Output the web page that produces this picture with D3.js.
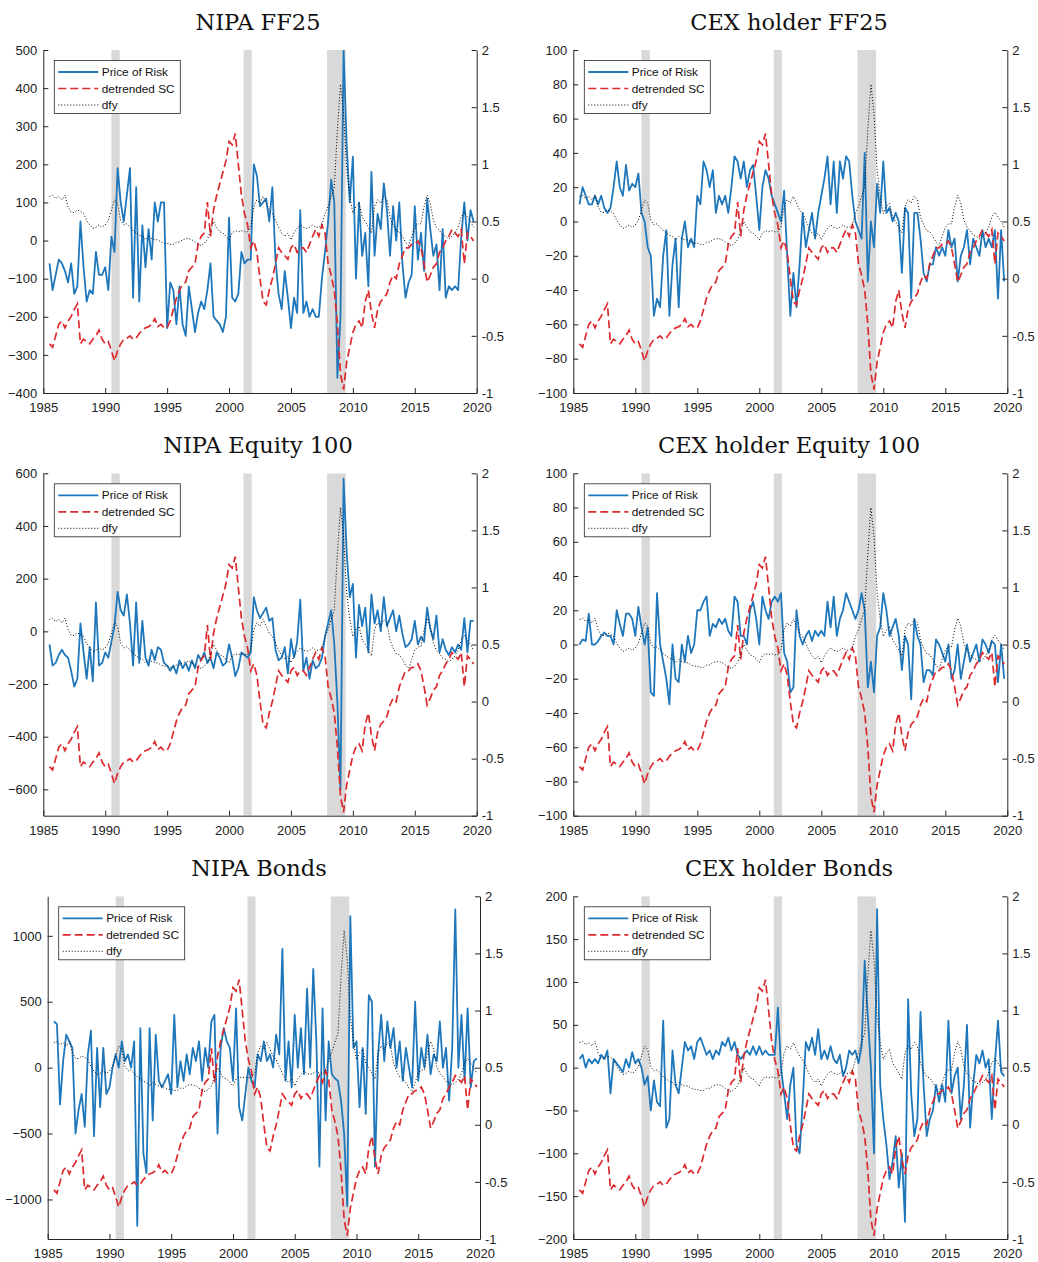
<!DOCTYPE html>
<html><head><meta charset="utf-8">
<script src="https://cdn.jsdelivr.net/npm/d3@7"></script>
<style>body{margin:0;background:#fff}svg{display:block}</style>
</head><body>
<svg id="chart" width="1038" height="1262"></svg>
<script>
// quarterly observations, 1985Q3 .. 2019Q4
const quarters = d3.range(138).map(i => 1985.5 + i * 0.25);

const detrendedSC = [
 -0.57,-0.60,
 -0.50,-0.40,-0.37,-0.43,
 -0.37,-0.33,-0.27,-0.22,
 -0.57,-0.53,-0.55,-0.57,
 -0.53,-0.50,-0.45,-0.53,
 -0.57,-0.55,-0.63,-0.72,
 -0.63,-0.57,-0.53,-0.52,
 -0.50,-0.53,-0.52,-0.48,
 -0.45,-0.43,-0.42,-0.40,
 -0.35,-0.42,-0.40,-0.43,
 -0.43,-0.37,-0.27,-0.17,
 -0.10,-0.05,-0.03,0.07,
 0.10,0.13,0.30,0.37,
 0.40,0.67,0.37,0.60,
 0.73,0.83,0.93,1.03,
 1.20,1.17,1.27,1.00,
 0.73,0.57,0.47,0.27,
 0.33,0.23,0.00,-0.20,
 -0.23,-0.10,0.00,0.13,
 0.27,0.23,0.20,0.17,
 0.27,0.30,0.23,0.27,
 0.27,0.23,0.30,0.37,
 0.43,0.37,0.47,0.40,
 0.13,0.03,-0.10,-0.40,
 -0.83,-0.97,-0.73,-0.60,
 -0.47,-0.40,-0.37,-0.43,
 -0.20,-0.10,-0.30,-0.43,
 -0.27,-0.20,-0.17,-0.13,
 -0.03,0.03,0.00,0.13,
 0.20,0.27,0.27,0.30,
 0.30,0.33,0.27,0.13,
 -0.03,0.03,0.10,0.13,
 0.23,0.27,0.33,0.37,
 0.43,0.40,0.37,0.43,
 0.13,0.40,0.37,0.33
];

const dfy = [
 0.72,0.73,
 0.70,0.72,0.69,0.73,
 0.63,0.58,0.58,0.60,
 0.59,0.57,0.51,0.47,
 0.44,0.45,0.47,0.45,
 0.47,0.51,0.60,0.69,
 0.66,0.51,0.47,0.48,
 0.45,0.42,0.40,0.38,
 0.37,0.34,0.37,0.35,
 0.34,0.34,0.32,0.31,
 0.31,0.30,0.30,0.32,
 0.32,0.34,0.35,0.35,
 0.34,0.32,0.30,0.29,
 0.31,0.34,0.42,0.50,
 0.45,0.41,0.40,0.37,
 0.34,0.40,0.42,0.41,
 0.42,0.41,0.41,0.45,
 0.63,0.69,0.66,0.72,
 0.66,0.60,0.57,0.51,
 0.45,0.40,0.37,0.40,
 0.34,0.40,0.44,0.47,
 0.45,0.44,0.45,0.47,
 0.45,0.45,0.47,0.57,
 0.63,0.72,0.80,1.30,
 1.70,1.45,0.95,0.72,
 0.57,0.63,0.66,0.54,
 0.50,0.45,0.40,0.63,
 0.69,0.66,0.72,0.69,
 0.54,0.47,0.42,0.41,
 0.37,0.32,0.29,0.37,
 0.45,0.48,0.48,0.63,
 0.73,0.66,0.51,0.45,
 0.42,0.38,0.37,0.35,
 0.37,0.40,0.45,0.54,
 0.58,0.54,0.50,0.45
];

const priceNipaFF25 = [
 -60,-130,
 -90,-50,-60,-80,
 -110,-60,-140,-120,
 50,-70,-160,-130,
 -140,-30,-90,-90,
 -70,-130,10,-30,
 190,100,50,120,
 190,-150,140,-160,
 40,-70,30,-50,
 100,50,100,100,
 -230,-110,-130,-220,
 -120,-220,-250,-120,
 -180,-240,-190,-160,
 -180,-130,-60,-200,
 -210,-220,-240,-200,
 60,-150,-160,-140,
 -30,-60,-50,-50,
 200,170,90,100,
 110,50,140,-50,
 -140,-180,-80,-150,
 -230,-150,-190,80,
 -190,-160,-200,-180,
 -200,-200,-100,-30,
 50,160,100,-360,
 -200,500,250,100,
 220,-100,100,-40,
 20,-120,180,-40,
 70,30,150,80,
 -40,90,0,100,
 -60,-150,-110,-90,
 90,-50,20,-80,
 110,30,-40,-10,
 -130,30,-150,-120,
 -130,-120,-130,10,
 100,0,80,50
];

const priceCexFF25 = [
 10,20,
 15,10,10,15,
 10,15,8,5,
 8,20,35,20,
 15,33,18,22,
 20,28,5,0,
 -15,-20,-55,-45,
 -50,-20,-5,-55,
 -25,-10,-50,-10,
 0,-15,-10,-15,
 15,10,35,30,
 20,30,5,15,
 10,15,5,20,
 38,35,25,35,
 20,30,33,15,
 -5,20,30,25,
 15,10,5,0,
 18,-20,-55,-30,
 -50,-25,5,-15,
 -5,5,-10,5,
 15,25,38,10,
 35,5,35,25,
 38,35,15,0,
 -5,-10,40,-35,
 0,-15,22,5,
 35,5,8,0,
 5,0,-30,8,
 5,-45,5,5,
 -10,-30,-35,-25,
 -25,-15,-20,-15,
 -20,-5,-15,-10,
 -35,-20,-15,-5,
 -25,-10,-15,-20,
 -5,-15,-10,-15,
 -5,-45,-5,-35
];

const priceNipaEquity = [
 -50,-130,
 -120,-90,-70,-90,
 -100,-150,-210,-180,
 30,-80,-180,-60,
 -190,110,-130,-120,
 -80,-100,-40,20,
 150,80,60,140,
 30,-130,110,-120,
 40,-100,-130,-70,
 -110,-60,-70,-120,
 -130,-150,-130,-160,
 -110,-140,-120,-150,
 -110,-140,-90,-110,
 -80,-120,-100,-140,
 -80,-100,-130,-120,
 -50,-100,-170,-140,
 -80,-90,-100,-80,
 130,80,50,70,
 90,40,50,-70,
 -110,-100,-60,-160,
 -30,-100,-40,120,
 -150,-100,-180,-110,
 -140,-130,-100,-20,
 30,80,-50,-270,
 -600,580,300,130,
 180,-100,100,20,
 90,-80,140,30,
 80,0,130,20,
 50,80,0,60,
 -10,-60,-50,-30,
 40,-50,-20,-40,
 90,10,-30,60,
 -80,-30,-70,-90,
 -60,-80,-50,-70,
 50,-80,40,40
];

const priceCexEquity = [
 0,3,
 2,18,0,0,
 2,5,7,5,
 5,0,20,12,
 5,18,18,15,
 5,22,10,0,
 10,-28,-30,30,
 0,-10,-20,-35,
 0,-20,-22,0,
 -10,5,-5,0,
 20,20,25,28,
 5,12,10,15,
 12,15,8,5,
 28,25,5,5,
 0,20,25,15,
 0,28,20,15,
 25,28,25,30,
 -5,-10,-28,-25,
 20,5,0,5,
 8,2,8,5,
 8,5,25,10,
 28,5,15,20,
 30,25,20,15,
 20,30,20,-25,
 -10,-28,5,10,
 30,20,5,10,
 15,5,-15,5,
 0,-32,15,5,
 0,-22,-15,-15,
 -18,3,0,-5,
 -10,0,-20,-15,
 0,-20,-10,0,
 -10,-5,0,-10,
 3,0,-5,2,
 0,-22,0,-20
];

const priceNipaBonds = [
 350,330,
 -280,50,250,200,
 150,-500,-320,-200,
 -450,100,280,-520,
 150,-300,150,-200,
 -150,0,100,0,
 200,50,100,0,
 200,-1200,300,-650,
 -800,300,-400,250,
 -100,-150,-100,-50,
 -200,400,-150,50,
 -100,100,-50,150,
 50,200,-100,150,
 0,350,400,-500,
 150,300,200,150,
 -100,450,-300,-400,
 -200,0,-100,-150,
 100,50,200,50,
 100,0,250,100,
 900,-100,200,-150,
 400,0,300,-50,
 600,0,750,200,
 -750,450,-400,200,
 -50,-80,-100,-250,
 -500,-1050,1150,150,
 200,-300,150,-350,
 550,500,-750,100,
 400,50,350,150,
 300,0,200,-100,
 150,0,-150,500,
 -100,150,0,250,
 -50,100,50,350,
 0,150,-250,150,
 1200,0,400,-100,
 450,-150,50,70
];

const priceCexBonds = [
 10,15,
 0,10,5,10,
 5,15,10,20,
 -30,10,5,0,
 -5,10,0,18,
 5,10,0,-20,
 -10,-50,-15,-40,
 -45,55,-70,-60,
 20,-20,-30,0,
 30,20,25,10,
 30,35,25,15,
 20,10,20,15,
 30,25,35,20,
 30,15,10,15,
 20,15,25,15,
 25,15,20,15,
 15,15,70,0,
 -30,-60,-20,0,
 -90,-100,-40,30,
 20,35,15,45,
 10,20,10,25,
 10,5,15,-10,
 0,20,15,20,
 5,25,125,60,
 0,-100,185,-20,
 -60,-90,-130,-110,
 -80,-140,-100,-180,
 80,-30,-80,-60,
 65,-20,-80,-60,
 -50,-20,-40,-20,
 -40,55,-30,-10,
 0,-60,-20,50,
 -70,-20,15,5,
 20,0,10,-60,
 5,55,-5,-10
];

const recessions = [[1990.5, 1991.17], [2001.17, 2001.83], [2007.92, 2009.42]];
const xTicks = [1985, 1990, 1995, 2000, 2005, 2010, 2015, 2020];
const rightTicks = [-1, -0.5, 0, 0.5, 1, 1.5, 2];
const legendLabels = ["Price of Risk", "detrended SC", "dfy"];

const panelTitles = ["NIPA FF25", "CEX holder FF25", "NIPA Equity 100", "CEX holder Equity 100", "NIPA Bonds", "CEX holder Bonds"];
const panelPrices = [priceNipaFF25, priceCexFF25, priceNipaEquity, priceCexEquity, priceNipaBonds, priceCexBonds];
const leftDomains = [[-400, 500], [-100, 100], [-700, 600], [-100, 100], [-1300, 1300], [-200, 200]];
const leftTicks = [
  [-400, -300, -200, -100, 0, 100, 200, 300, 400, 500],
  [-100, -80, -60, -40, -20, 0, 20, 40, 60, 80, 100],
  [-600, -400, -200, 0, 200, 400, 600],
  [-100, -80, -60, -40, -20, 0, 20, 40, 60, 80, 100],
  [-1000, -500, 0, 500, 1000],
  [-200, -150, -100, -50, 0, 50, 100, 150, 200]
];

// layout (pixel boxes of each axes)
const boxes = [
  {x0: 43.3, x1: 476.7, y0: 50, y1: 393, tx: 258},
  {x0: 573.3, x1: 1007.3, y0: 50, y1: 393, tx: 789},
  {x0: 43.3, x1: 476.7, y0: 473.3, y1: 815.7, tx: 258},
  {x0: 573.3, x1: 1007.3, y0: 473.3, y1: 815.7, tx: 789},
  {x0: 47.7, x1: 480, y0: 896.3, y1: 1239, tx: 259},
  {x0: 573.3, x1: 1007.3, y0: 896.3, y1: 1239, tx: 789}
];

const BLUE = "#1f77bb", RED = "#dc2a2e", GRAY = "#d9d9d9";
const tickFont = "'Liberation Sans', Arial, sans-serif";
const svg = d3.select("#chart");

boxes.forEach((b, i) => {
  const g = svg.append("g");
  const x = d3.scaleLinear().domain([1985, 2020]).range([b.x0, b.x1]);
  const yL = d3.scaleLinear().domain(leftDomains[i]).range([b.y1, b.y0]);
  const yR = d3.scaleLinear().domain([-1, 2]).range([b.y1, b.y0]);

  const clipId = "clip" + i;
  svg.append("clipPath").attr("id", clipId).append("rect")
    .attr("x", b.x0).attr("y", b.y0).attr("width", b.x1 - b.x0).attr("height", b.y1 - b.y0);

  const plot = g.append("g").attr("clip-path", `url(#${clipId})`);
  plot.selectAll("rect.rec").data(recessions).join("rect")
    .attr("x", d => x(d[0])).attr("width", d => x(d[1]) - x(d[0]))
    .attr("y", b.y0).attr("height", b.y1 - b.y0).attr("fill", GRAY);

  const price = panelPrices[i];
  const lineL = d3.line().x((d, k) => x(quarters[k])).y(d => yL(d));
  const lineR = d3.line().x((d, k) => x(quarters[k])).y(d => yR(d));

  plot.append("path").datum(price).attr("d", lineL)
    .attr("fill", "none").attr("stroke", BLUE).attr("stroke-width", 1.8).attr("stroke-linejoin", "round");
  plot.append("path").datum(detrendedSC).attr("d", lineR)
    .attr("fill", "none").attr("stroke", RED).attr("stroke-width", 1.7).attr("stroke-dasharray", "8,4");
  plot.append("path").datum(dfy).attr("d", lineR)
    .attr("fill", "none").attr("stroke", "#000").attr("stroke-width", 1).attr("stroke-dasharray", "1,2");

  // axes
  const xAxis = d3.axisBottom(x).tickValues(xTicks).tickFormat(d3.format("d")).tickSizeInner(-5).tickSizeOuter(0).tickPadding(10);
  const ax = g.append("g").attr("transform", `translate(0,${b.y1})`).call(xAxis);
  const lAxis = d3.axisLeft(yL).tickValues(leftTicks[i]).tickFormat(d3.format("d")).tickSizeInner(-5).tickSizeOuter(0).tickPadding(6);
  const al = g.append("g").attr("transform", `translate(${b.x0},0)`).call(lAxis);
  const rAxis = d3.axisRight(yR).tickValues(rightTicks).tickFormat(d => String(d)).tickSizeInner(-5).tickSizeOuter(0).tickPadding(5);
  const ar = g.append("g").attr("transform", `translate(${b.x1},0)`).call(rAxis);
  [ax, al, ar].forEach(a => {
    a.selectAll("text").attr("font-family", tickFont).attr("font-size", 13).attr("fill", "#222");
    a.selectAll("line").attr("stroke", "#262626");
    a.select(".domain").attr("stroke", "#262626").attr("stroke-width", 1);
    a.attr("font-family", null);
  });

  // title
  g.append("text").attr("x", b.tx).attr("y", b.y0 - 20).attr("text-anchor", "middle")
    .attr("font-family", "'DejaVu Serif', serif").attr("font-size", 22.5).attr("fill", "#111")
    .text(panelTitles[i]);

  // legend
  const lx = b.x0 + 11, ly = b.y0 + 10.5;
  const lg = g.append("g").attr("transform", `translate(${lx},${ly})`);
  lg.append("rect").attr("width", 126).attr("height", 53).attr("fill", "#fff").attr("stroke", "#262626").attr("stroke-width", 0.8);
  const styles = [
    {stroke: BLUE, w: 1.8, dash: null},
    {stroke: RED, w: 1.7, dash: "8,4"},
    {stroke: "#000", w: 1, dash: "1,2"}
  ];
  legendLabels.forEach((t, k) => {
    const yy = 11.5 + k * 16.5;
    lg.append("line").attr("x1", 4).attr("x2", 44).attr("y1", yy).attr("y2", yy)
      .attr("stroke", styles[k].stroke).attr("stroke-width", styles[k].w).attr("stroke-dasharray", styles[k].dash);
    lg.append("text").attr("x", 47.5).attr("y", yy + 4.2).attr("font-family", tickFont)
      .attr("font-size", 11.8).attr("fill", "#111").text(t);
  });
});
</script>
</body></html>
